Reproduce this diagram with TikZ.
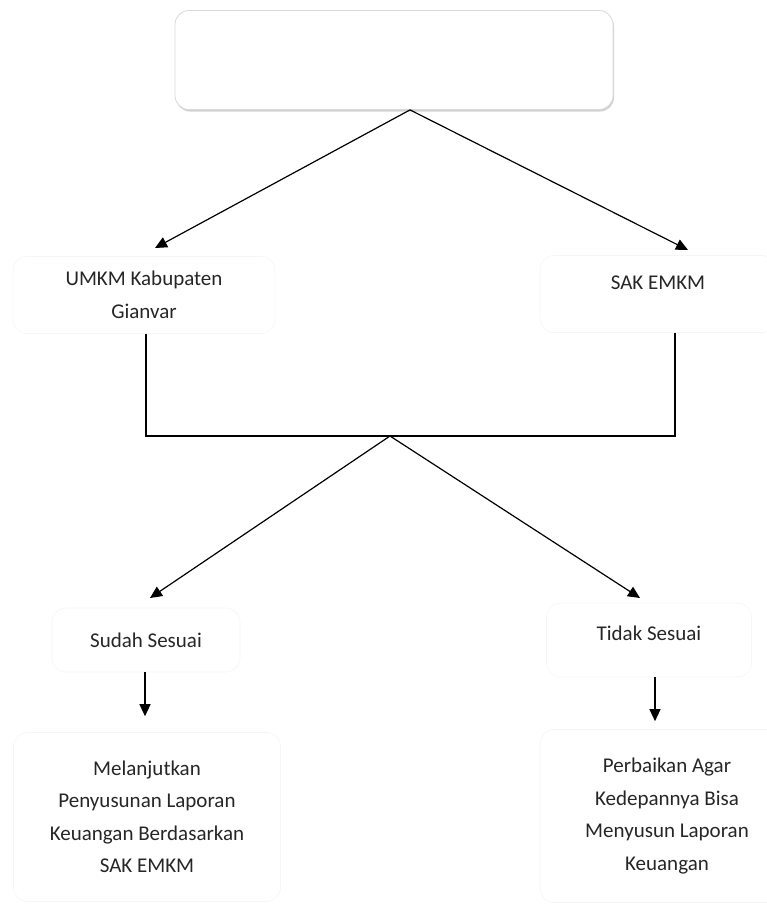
\documentclass[tikz,border=0pt]{standalone}
\usepackage{fontspec}
\setmainfont{Carlito}
\usetikzlibrary{arrows.meta,shadows}

\begin{document}
\begin{tikzpicture}[
  x=1pt, y=-1pt,
  line width=1.2pt,
  every node/.style={rounded corners=14pt, draw=black!4, line width=0.6pt,
    align=center, font=\fontsize{21}{32.5}\selectfont, text=black!85},
  arr/.style={-{Triangle[length=12pt,width=11pt]}},
  topbox/.style={draw=black!15, fill=white, line width=0.8pt,
    drop shadow={shadow xshift=1pt, shadow yshift=-2pt, fill=black!35}}
]
\useasboundingbox (0,0) rectangle (766,905);
\node[topbox, minimum width=438pt, minimum height=99pt] (top) at (394,60) {};
\node[minimum width=262pt, minimum height=77pt] (umkm) at (144,295)
  {UMKM Kabupaten\\Gianvar};
\node[minimum width=236pt, minimum height=77pt, text height=15pt, text depth=25pt]
  (sak) at (658,294) {SAK EMKM};
\node[minimum width=188pt, minimum height=64pt] (sudah) at (146,640) {Sudah Sesuai};
\node[minimum width=205pt, minimum height=74pt, text depth=14pt]
  (tidak) at (649,640) {Tidak Sesuai};
\node[minimum width=267pt, minimum height=169pt] (lanjut) at (147,817)
  {Melanjutkan\\Penyusunan Laporan\\Keuangan Berdasarkan\\SAK EMKM};
\node[minimum width=254pt, minimum height=173pt] (perbaikan) at (667,816)
  {Perbaikan Agar\\Kedepannya Bisa\\Menyusun Laporan\\Keuangan};

\coordinate (umkmin) at (155,248);
\coordinate (sakin) at (688,250);
\coordinate (join) at (390,436);
\coordinate (sudahin) at (150,598);
\coordinate (tidakin) at (640,598);

\draw[arr] ([xshift=16pt]top.south) -- (umkmin);
\draw[arr] ([xshift=16pt]top.south) -- (sakin);
\draw ([xshift=2pt]umkm.south) |- ([xshift=17pt]sak.south |- join)
  -- ([xshift=17pt]sak.south);
\draw[arr] (join) -- (sudahin);
\draw[arr] (join) -- (tidakin);
\draw[arr, shorten >=16pt] ([xshift=-1pt]sudah.south) -- ([xshift=-1pt]sudah.south |- lanjut.north);
\draw[arr, shorten >=8pt] ([xshift=6pt]tidak.south) -- ([xshift=6pt]tidak.south |- perbaikan.north);
\end{tikzpicture}
\end{document}
